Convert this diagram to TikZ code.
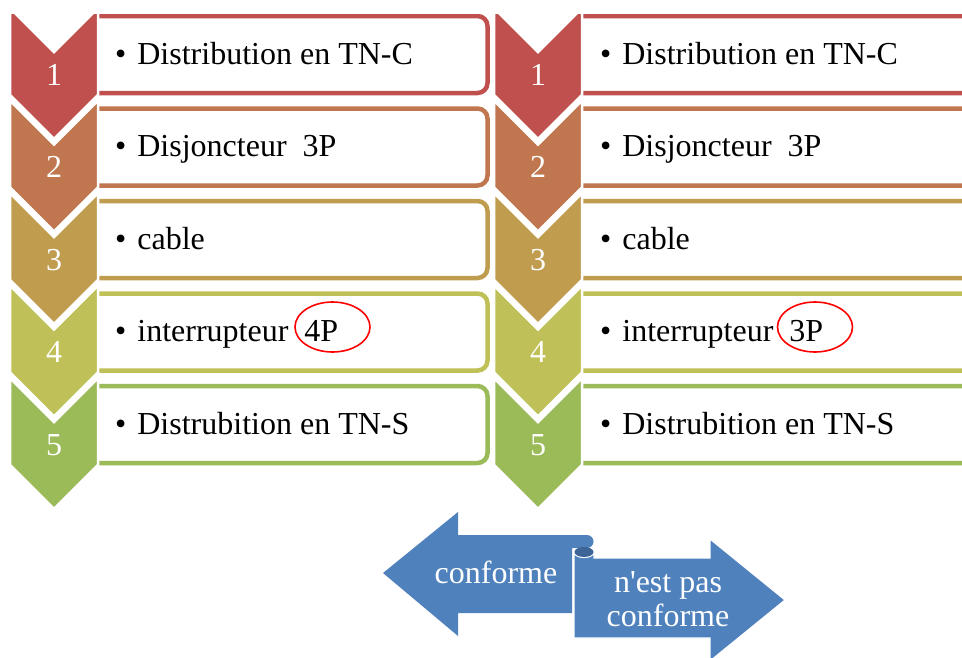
\documentclass[tikz,border=0pt]{standalone}
\usepackage{fontspec}
\setmainfont{Liberation Serif}
\newfontfamily\plainserif{Liberation Serif}
\usetikzlibrary{positioning}
\definecolor{stepred}{RGB}{192,80,77}
\definecolor{steporange}{RGB}{192,119,79}
\definecolor{steptan}{RGB}{192,156,79}
\definecolor{stepolive}{RGB}{191,192,88}
\definecolor{stepgreen}{RGB}{155,187,89}
\definecolor{arrowblue}{RGB}{79,129,189}
\definecolor{curlblue}{RGB}{60,100,150}

\begin{document}
\begin{tikzpicture}[x=1pt, y=-1pt,
          chev/.style={draw=white, line width=2.5pt},
          itembox/.style={line width=4.5pt, rounded corners=10pt,
                          fill=white},
          num/.style={text=white, anchor=base, inner sep=0pt,
                      font=\fontsize{32}{38}\selectfont},
          item/.style={anchor=base west, inner sep=0pt,
                       font=\fontsize{32}{38}\selectfont},
          ringmark/.style={draw=red, line width=1.6pt},
          arrtxt/.style={text=white, inner sep=0pt, align=center,
                         font=\plainserif\fontsize{32}{34}\selectfont},
      ]
      \useasboundingbox (0,0) rectangle (962,657);
      \clip (0,14) rectangle (962,657);

      % boxes and chevrons, bottom row first
      \foreach \k/\col in {5/stepgreen, 4/stepolive, 3/steptan,
                           2/steporange, 1/stepred}{
        \pgfmathsetmacro{\t}{8+92.5*(\k-1)}
        \draw[itembox, draw=\col] (88,\t+8) rectangle (487.5,\t+85);
        \draw[itembox, draw=\col] (572,\t+8) rectangle (990,\t+85);
        \foreach \xo in {10,494}{
          \filldraw[chev, fill=\col] (\xo,\t) -- ++(44,44) -- ++(44,-44)
              -- ++(0,87) -- ++(-44,44) -- ++(-44,-44) -- cycle;
        }
      }

      % step numbers
      \node[num] (n1l) at (54,85)    {1};
      \node[num] (n2l) at (54,177.5) {2};
      \node[num] (n3l) at (54,270)   {3};
      \node[num] (n4l) at (54,362.5) {4};
      \node[num] (n5l) at (54,455)   {5};
      \node[num] (n1r) at (538,85)    {1};
      \node[num] (n2r) at (538,177.5) {2};
      \node[num] (n3r) at (538,270)   {3};
      \node[num] (n4r) at (538,362.5) {4};
      \node[num] (n5r) at (538,455)   {5};

      % left list
      \node[item] (t1l) at (115,64)
          {\textbullet\hspace{11pt}Distribution en TN-C};
      \node[item] (t2l) at (115,156.5)
          {\textbullet\hspace{11pt}Disjoncteur\ \ 3P};
      \node[item] (t3l) at (115,249)
          {\textbullet\hspace{11pt}cable};
      \node[item] (t4l) at (115,341.5)
          {\textbullet\hspace{11pt}interrupteur\ \ 4P};
      \node[item] (t5l) at (115,434)
          {\textbullet\hspace{11pt}Distrubition en TN-S};

      % right list
      \node[item] (t1r) at (600,64)
          {\textbullet\hspace{11pt}Distribution en TN-C};
      \node[item] (t2r) at (600,156.5)
          {\textbullet\hspace{11pt}Disjoncteur\ \ 3P};
      \node[item] (t3r) at (600,249)
          {\textbullet\hspace{11pt}cable};
      \node[item] (t4r) at (600,341.5)
          {\textbullet\hspace{11pt}interrupteur\ \ 3P};
      \node[item] (t5r) at (600,434)
          {\textbullet\hspace{11pt}Distrubition en TN-S};

      % red rings
      \draw[ringmark] (332.5,327) ellipse[x radius=37.5, y radius=25];
      \draw[ringmark] (815,327) ellipse[x radius=37.5, y radius=25];

      % double arrow
      \fill[arrowblue] (383,573) -- (458,512) -- (458,535) -- (587,535)
          arc[start angle=-90, end angle=90, radius=6.5]
          -- (572,548) -- (572,613) -- (458,613) -- (458,636) -- cycle;
      \filldraw[arrowblue, draw=white, line width=1.2pt]
          (574,638) -- (574,552)
          arc[start angle=180, end angle=0, x radius=10, y radius=5.5]
          -- (594,558) -- (710,558) -- (710,539) -- (785,600)
          -- (710,661) -- (710,638) -- cycle;
      \fill[curlblue] (584,552) ellipse[x radius=9.5, y radius=5];

      \node[arrtxt, anchor=base] (conf) at (496,583) {conforme};
      \node[arrtxt] (nconf) at (668,599) {n'est pas\\conforme};
      \end{tikzpicture}
\end{document}
